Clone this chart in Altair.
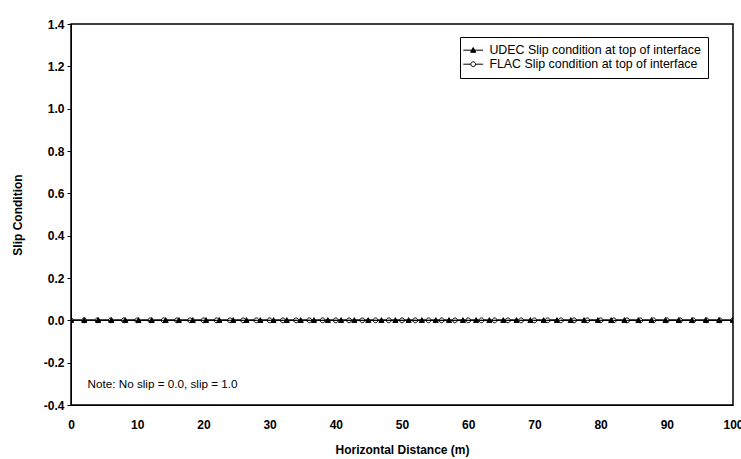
import altair as alt
import pandas as pd

UDEC = "UDEC Slip condition at top of interface"
FLAC = "FLAC Slip condition at top of interface"

flac_x = [0, 2, 4, 6, 8, 10, 12, 14, 16, 18, 20, 22, 24, 26, 28, 30, 32, 34, 36, 38,
          40, 42, 44, 46, 48, 50, 52, 54, 56, 58, 60, 62, 64, 66, 68, 70, 72, 74, 76, 78,
          80, 82, 84, 86, 88, 90, 92, 94, 96, 98, 100]
flac_y = [0.0] * len(flac_x)

udec_x = [0, 2.0, 4.1, 6.1, 8.2, 10.2, 12.2, 14.3, 16.3, 18.4, 20.4, 22.4, 24.5, 26.5,
          28.6, 30.6, 32.6, 34.7, 36.7, 38.8, 40.8, 42.8, 44.9, 46.9, 49.0, 51.0, 53.0,
          55.1, 57.1, 59.2, 61.2, 63.2, 65.3, 67.3, 69.4, 71.4, 73.4, 75.5, 77.5, 79.6,
          81.6, 83.6, 85.7, 87.7, 89.8, 91.8, 93.8, 95.9, 97.9, 100.0]
udec_y = [0.0] * len(udec_x)

y_ticks = [-0.4, -0.2, 0.0, 0.2, 0.4, 0.6, 0.8, 1.0, 1.2, 1.4]
x_ticks = [0, 10, 20, 30, 40, 50, 60, 70, 80, 90, 100]

note_text = ["Note: No slip = 0.0, slip = 1.0"]
note_x = [2.5]
note_y = [-0.3]

df = pd.concat([
    pd.DataFrame({"x": flac_x, "y": flac_y, "series": FLAC, "order": 0}),
    pd.DataFrame({"x": udec_x, "y": udec_y, "series": UDEC, "order": 1}),
], ignore_index=True)
note_df = pd.DataFrame({"x": note_x, "y": note_y, "text": note_text})

FONT = "Liberation Sans"

tri_path = "M-3.3,0H3.3M0,-0.9L0.85,0.7L-0.85,0.7Z"
circ_path = ("M-3.3,0H-0.8M0.8,0H3.3M0.8,0A0.8,0.8,0,1,1,-0.8,0"
             "A0.8,0.8,0,1,1,0.8,0Z")

xscale = alt.Scale(domain=[0, 100], nice=False)
yscale = alt.Scale(domain=[-0.4, 1.4], nice=False)

xaxis = alt.Axis(values=x_ticks, title="Horizontal Distance (m)", grid=False,
                 ticks=False, labelPadding=14, titlePadding=14,
                 labelFont=FONT, labelFontSize=12, labelFontWeight="bold",
                 titleFont=FONT, titleFontSize=12, titleFontWeight="bold",
                 labelColor="black", titleColor="black", domainColor="black",
                 labelFlush=False, labelOverlap=False)
yaxis = alt.Axis(values=y_ticks, title="Slip Condition", grid=False,
                 tickSize=4, tickColor="black", labelPadding=3, titlePadding=19,
                 labelExpr="replace(format(datum.value, '.1f'), '\u2212', '-')",
                 labelFont=FONT, labelFontSize=12, labelFontWeight="bold",
                 titleFont=FONT, titleFontSize=12, titleFontWeight="bold",
                 labelColor="black", titleColor="black", domainColor="black",
                 labelFlush=False, labelOverlap=False)

legend = alt.Legend(title=None, orient="none", legendX=389, legendY=13,
                    strokeColor="black", fillColor="white", padding=7,
                    labelFont=FONT, labelFontSize=12.4, labelColor="black",
                    labelOffset=10, rowPadding=1, symbolSize=36, labelLimit=400,
                    symbolStrokeColor="black", symbolStrokeWidth=1)

same = alt.Scale(domain=[UDEC, FLAC], range=["black", "black"])

base = alt.Chart(df)

lines = base.mark_line(color="black", strokeWidth=1.2, clip=True).encode(
    x=alt.X("x:Q", scale=xscale, axis=xaxis),
    y=alt.Y("y:Q", scale=yscale, axis=yaxis),
    detail="series:N",
)

points = base.mark_point(filled=True, strokeWidth=1, size=36,
                         opacity=1, clip=True).encode(
    x=alt.X("x:Q", scale=xscale),
    y=alt.Y("y:Q", scale=yscale),
    shape=alt.Shape("series:N", scale=alt.Scale(domain=[UDEC, FLAC],
                                                range=[tri_path, circ_path]),
                    legend=legend),
    fill=alt.Fill("series:N", scale=alt.Scale(domain=[UDEC, FLAC],
                                              range=["black", "white"]),
                  legend=legend),
    stroke=alt.Stroke("series:N", scale=same, legend=legend),
    order="order:Q",
)

note = alt.Chart(note_df).mark_text(align="left", baseline="middle", font=FONT,
                                    fontSize=11.7, color="black").encode(
    x=alt.X("x:Q", scale=xscale),
    y=alt.Y("y:Q", scale=yscale),
    text="text:N",
)

chart = alt.layer(lines, points, note).properties(
    width=662, height=381,
    autosize=alt.AutoSizeParams(type="none"),
    padding={"left": 71, "top": 24, "right": 8, "bottom": 54},
    background="white",
).configure_view(stroke="black", strokeWidth=1.5)

chart.save("out.html", embed_options={"renderer": "svg", "actions": False})
